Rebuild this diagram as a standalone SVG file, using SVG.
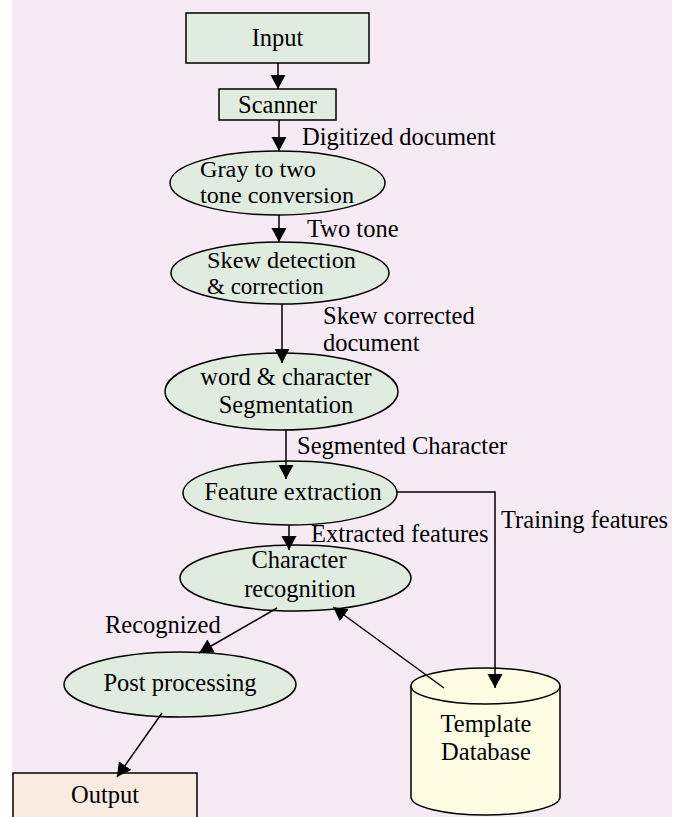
<svg xmlns="http://www.w3.org/2000/svg" width="679" height="817" viewBox="0 0 679 817">
<style>
text{font-size:24.5px;fill:#000}
.t{font-size:23px}
.n{stroke:#000;stroke-width:1.5}
.g{fill:#e0ecdf}
.c line,.c polyline{stroke:#000;stroke-width:1.5;fill:none}
.m{text-anchor:middle}
</style>
<defs>
<marker id="ah" markerUnits="userSpaceOnUse" markerWidth="16" markerHeight="16" viewBox="0 0 16 16" refX="14" refY="8" orient="auto">
<path d="M0,0.5 L14,8 L0,15.5 Z" fill="#000"/>
</marker>
</defs>
<rect x="0" y="0" width="679" height="817" fill="#ffffff"/>
<rect x="12" y="0" width="660" height="817" fill="#f6eaf4"/>
<g font-family="'Liberation Serif', 'Times New Roman', 'DejaVu Serif', serif">
<g id="input"><rect class="n g" x="186" y="13" width="183" height="50"/><text class="m" x="277.5" y="46">Input</text></g>
<g id="scanner"><rect class="n g" x="219" y="89" width="117" height="31"/><text class="m" x="277.5" y="113">Scanner</text></g>
<g id="gray"><ellipse class="n g" cx="277.5" cy="183" rx="107.5" ry="32"/><text class="t" x="200" y="177" textLength="116" lengthAdjust="spacingAndGlyphs">Gray to two</text><text class="t" x="200" y="203" textLength="154" lengthAdjust="spacingAndGlyphs">tone conversion</text></g>
<g id="skew"><ellipse class="n g" cx="280" cy="273" rx="109" ry="31"/><text class="t" x="207" y="268" textLength="149" lengthAdjust="spacingAndGlyphs">Skew detection</text><text class="t" x="207" y="294">&amp; correction</text></g>
<g id="segment"><ellipse class="n g" cx="281.5" cy="391.5" rx="116.5" ry="38.5"/><text class="m" x="286" y="385">word &amp; character</text><text class="m" x="286" y="413">Segmentation</text></g>
<g id="feature"><ellipse class="n g" cx="290" cy="493" rx="107" ry="32"/><text class="m" x="293" y="500">Feature extraction</text></g>
<g id="recog"><ellipse class="n g" cx="295.5" cy="578" rx="115.5" ry="33"/><text class="m" x="299" y="568">Character</text><text class="m" x="300" y="597">recognition</text></g>
<g id="post"><ellipse class="n g" cx="180" cy="684.5" rx="116" ry="32.5"/><text class="m" x="180" y="691">Post processing</text></g>
<g id="output"><rect class="n" fill="#f9ebe0" x="13" y="773" width="184" height="60"/><text class="m" x="105" y="803">Output</text></g>
<g id="database">
<path class="n" fill="#fefde3" d="M411,686 L411,797 A74.5,18 0 0 0 560,797 L560,686 A74.5,18 0 0 0 411,686 Z"/>
<path class="n" fill="none" d="M411,686 A74.5,18 0 0 0 560,686"/>
<text class="m" x="486" y="732">Template</text><text class="m" x="486" y="760">Database</text>
</g>
<g id="labels">
<text x="302" y="145">Digitized document</text>
<text x="307" y="237">Two tone</text>
<text x="323" y="324">Skew corrected</text>
<text x="323" y="351">document</text>
<text x="297" y="454">Segmented Character</text>
<text x="311" y="542">Extracted features</text>
<text x="501" y="528">Training features</text>
<text x="105" y="633">Recognized</text>
</g>
</g>
<g id="connectors" class="c">
<line x1="278" y1="63" x2="278" y2="89" marker-end="url(#ah)"/>
<line x1="279" y1="120" x2="279" y2="151" marker-end="url(#ah)"/>
<line x1="279" y1="215" x2="279" y2="242" marker-end="url(#ah)"/>
<line x1="282" y1="304" x2="282" y2="363" marker-end="url(#ah)"/>
<line x1="286" y1="430" x2="286" y2="479" marker-end="url(#ah)"/>
<line x1="289" y1="525" x2="289" y2="550" marker-end="url(#ah)"/>
<polyline points="397,492 495,492 495,688" marker-end="url(#ah)"/>
<line x1="277" y1="608" x2="199" y2="653" marker-end="url(#ah)"/>
<line x1="444" y1="688" x2="333" y2="607" marker-end="url(#ah)"/>
<line x1="162" y1="713" x2="117" y2="777" marker-end="url(#ah)"/>
</g>
</svg>
